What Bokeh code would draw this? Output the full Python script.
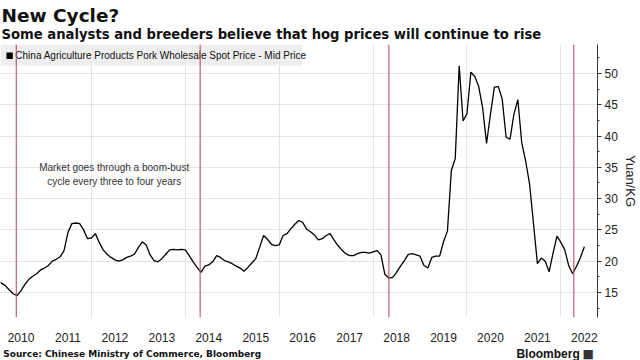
from bokeh.plotting import figure
from bokeh.layouts import column
from bokeh.models import (Span, Label, FixedTicker, ColumnDataSource, Range1d)
from bokeh.embed import file_html
from bokeh.resources import INLINE

# ---------------- data ----------------
start_year = 2010
prices = [
    # 2010
    16.8, 16.5, 16.1, 15.4, 14.8, 14.5, 15.3, 16.3, 17.1, 17.6, 18.0, 18.6,
    # 2011
    18.9, 19.3, 20.0, 20.3, 20.7, 21.7, 24.6, 26.0, 26.1, 26.0, 25.0, 23.6,
    # 2012
    23.7, 24.4, 23.0, 21.8, 21.1, 20.6, 20.2, 20.0, 20.2, 20.6, 20.8, 21.1,
    # 2013
    22.2, 23.1, 22.6, 21.0, 20.1, 19.9, 20.4, 21.1, 21.8, 21.9, 21.8, 21.9,
    # 2014
    21.8, 20.9, 19.9, 19.0, 18.2, 19.2, 19.4, 19.9, 20.9, 20.6, 20.1, 19.9,
    # 2015
    19.6, 19.2, 18.9, 18.4, 19.0, 19.7, 20.4, 22.2, 24.1, 23.5, 22.7, 22.5,
    # 2016
    22.6, 24.1, 24.4, 25.2, 25.9, 26.5, 26.2, 25.1, 24.7, 24.2, 23.4, 23.6,
    # 2017
    24.1, 24.4, 23.4, 22.5, 21.8, 21.2, 20.9, 20.9, 21.2, 21.4, 21.4, 21.3,
    # 2018
    21.5, 21.7, 21.0, 17.9, 17.3, 17.4, 18.2, 19.2, 20.1, 21.1, 21.2, 21.0,
    # 2019
    20.8, 19.3, 18.9, 20.6, 20.8, 20.8, 23.1, 24.8, 34.5, 36.4, 51.2, 42.4,
    # 2020
    43.6, 50.2, 49.5, 47.9, 44.5, 38.8, 43.5, 47.8, 47.9, 45.9, 39.8, 39.5,
    # 2021
    43.5, 45.8, 38.9, 36.0, 32.3, 26.0, 19.6, 20.5, 20.0, 18.3, 21.3, 24.0,
    # 2022
    23.0, 21.8, 19.3, 18.0, 19.2, 20.6, 22.3,
]
cycle_lows = ["2010-05-25", "2014-04-25", "2018-05-02", "2022-04-10"]
year_labels = ["2010", "2011", "2012", "2013", "2014", "2015", "2016",
               "2017", "2018", "2019", "2020", "2021", "2022"]
grid_years = [2012, 2014, 2016, 2018, 2020, 2022]
y_ticks = [15, 20, 25, 30, 35, 40, 45, 50]
y_minor = [12.5, 17.5, 22.5, 27.5, 32.5, 37.5, 42.5, 47.5, 52.5]

series_name = "China Agriculture Products Pork Wholesale Spot Price - Mid Price"
title_text = "New Cycle?"
subtitle_text = "Some analysts and breeders believe that hog prices will continue to rise"
note_lines = ["Market goes through a boom-bust", "cycle every three to four years"]
source_text = "Source: Chinese Ministry of Commerce, Bloomberg"
brand_text = "Bloomberg"


def date_to_dec(s):
    y, m, d = (int(v) for v in s.split("-"))
    return y + (m - 1) / 12 + (d - 1) / 365


t = [start_year + i / 12 for i in range(len(prices))]
src = ColumnDataSource(data=dict(t=t, price=prices))

# ---------------- layout constants (pixels) ----------------
W = 640
HEAD_H = 44
MAIN_H = 302
FOOT_H = 360 - HEAD_H - MAIN_H
FRAME_R = 604
FRAME_H = 273
X0, X1 = 2010.063, 2022.78
Y0, Y1 = 11.0, 54.62


def text_panel(h):
    f = figure(width=W, height=h, output_backend="svg", toolbar_location=None,
               x_range=Range1d(0, W), y_range=Range1d(h, 0),
               x_axis_type=None, y_axis_type=None,
               min_border_left=0, min_border_right=0,
               min_border_top=0, min_border_bottom=0)
    f.title = None
    f.outline_line_color = None
    f.xgrid.visible = False
    f.ygrid.visible = False
    f.background_fill_color = "white"
    f.border_fill_color = "white"
    return f


# ---------------- header ----------------
head = text_panel(HEAD_H)
head.add_layout(Label(x=1, y=15, text=title_text, text_align="left",
                      text_baseline="alphabetic", text_font="DejaVu Sans",
                      text_font_size="18.5px", text_font_style="bold",
                      text_color="#111111"))
head.add_layout(Label(x=1, y=34, text=subtitle_text, text_align="left",
                      text_baseline="alphabetic", text_font="DejaVu Sans",
                      text_font_size="13.2px", text_font_style="bold",
                      text_color="#111111"))

# ---------------- main chart ----------------
p = figure(width=W, height=MAIN_H, output_backend="svg", toolbar_location=None,
           x_range=Range1d(X0, X1), y_range=Range1d(Y0, Y1),
           y_axis_location="right",
           min_border_left=0, min_border_right=W - FRAME_R,
           min_border_top=0, min_border_bottom=MAIN_H - FRAME_H)
p.title = None
p.outline_line_color = None
p.background_fill_color = "white"
p.border_fill_color = "white"

xa = p.xaxis[0]
xa.ticker = FixedTicker(ticks=[int(y) + 0.5 for y in year_labels])
xa.major_label_overrides = {int(y) + 0.5: y for y in year_labels}
xa.axis_line_color = None
xa.major_tick_line_color = None
xa.minor_tick_line_color = None
xa.major_tick_out = 0
xa.minor_tick_out = 0
xa.major_label_standoff = 15
xa.major_label_text_font = "Liberation Sans"
xa.major_label_text_font_size = "12px"
xa.major_label_text_color = "#222222"

ya = p.yaxis[0]
ya.ticker = FixedTicker(ticks=y_ticks, minor_ticks=y_minor)
ya.axis_line_color = "#333333"
ya.major_tick_line_color = "#333333"
ya.minor_tick_line_color = "#333333"
ya.major_tick_in = 0
ya.major_tick_out = 4
ya.minor_tick_in = 0
ya.minor_tick_out = 2
ya.major_label_standoff = 3
ya.major_label_text_font = "Liberation Sans"
ya.major_label_text_font_size = "12px"
ya.major_label_text_color = "#222222"
ya.axis_label = "Yuan/KG"
ya.axis_label_text_font = "Liberation Sans"
ya.axis_label_text_font_size = "13px"
ya.axis_label_text_font_style = "normal"
ya.axis_label_text_color = "#222222"
ya.axis_label_standoff = 2

p.xgrid.ticker = FixedTicker(ticks=grid_years)
p.xgrid.grid_line_color = "#e4e4e4"
p.ygrid.grid_line_color = "#e4e4e4"


def fx(px):
    return X0 + px / FRAME_R * (X1 - X0)


def fy(py):
    return Y1 - py / FRAME_H * (Y1 - Y0)


# legend box (series key) in the top-left corner of the plot area
p.quad(left=[X0], right=[fx(305)], top=[Y1], bottom=[fy(21)],
       fill_color="#eeeeee", line_color=None)
p.quad(left=[fx(6)], right=[fx(12.5)], top=[fy(8)], bottom=[fy(14.5)],
       fill_color="black", line_color=None)
p.add_layout(Label(x=fx(15), y=fy(11.2), text=series_name,
                   text_align="left", text_baseline="middle",
                   text_font="Liberation Sans", text_font_size="10px",
                   text_color="#111111"))

# series
p.line(x="t", y="price", source=src, line_color="black", line_width=1.3)

for d in cycle_lows:
    p.add_layout(Span(location=date_to_dec(d), dimension="height",
                      line_color="#b65563", line_width=1.1))

p.add_layout(Label(x=fx(115), y=fy(167.3 - HEAD_H), text=note_lines[0],
                   text_align="center", text_baseline="middle",
                   text_font="Liberation Sans", text_font_size="10px",
                   text_color="#333333"))
p.add_layout(Label(x=fx(115), y=fy(181 - HEAD_H), text=note_lines[1],
                   text_align="center", text_baseline="middle",
                   text_font="Liberation Sans", text_font_size="10px",
                   text_color="#333333"))

# ---------------- footer ----------------
foot = text_panel(FOOT_H)
foot.add_layout(Label(x=3, y=7, text=source_text, text_align="left",
                      text_baseline="alphabetic", text_font="DejaVu Sans",
                      text_font_size="9px", text_font_style="bold",
                      text_color="#111111"))
foot.add_layout(Label(x=621, y=7, text=brand_text, text_align="right",
                      text_baseline="alphabetic", text_font="Liberation Sans",
                      text_font_size="12px", text_font_style="bold",
                      text_color="#111111"))
foot.add_layout(Label(x=624, y=7, text="\u25a0", text_align="left",
                      text_baseline="alphabetic", text_font="DejaVu Sans",
                      text_font_size="12px", text_color="#333333"))

layout = column(head, p, foot, spacing=0)
open("out.html", "w").write(file_html(layout, INLINE))
